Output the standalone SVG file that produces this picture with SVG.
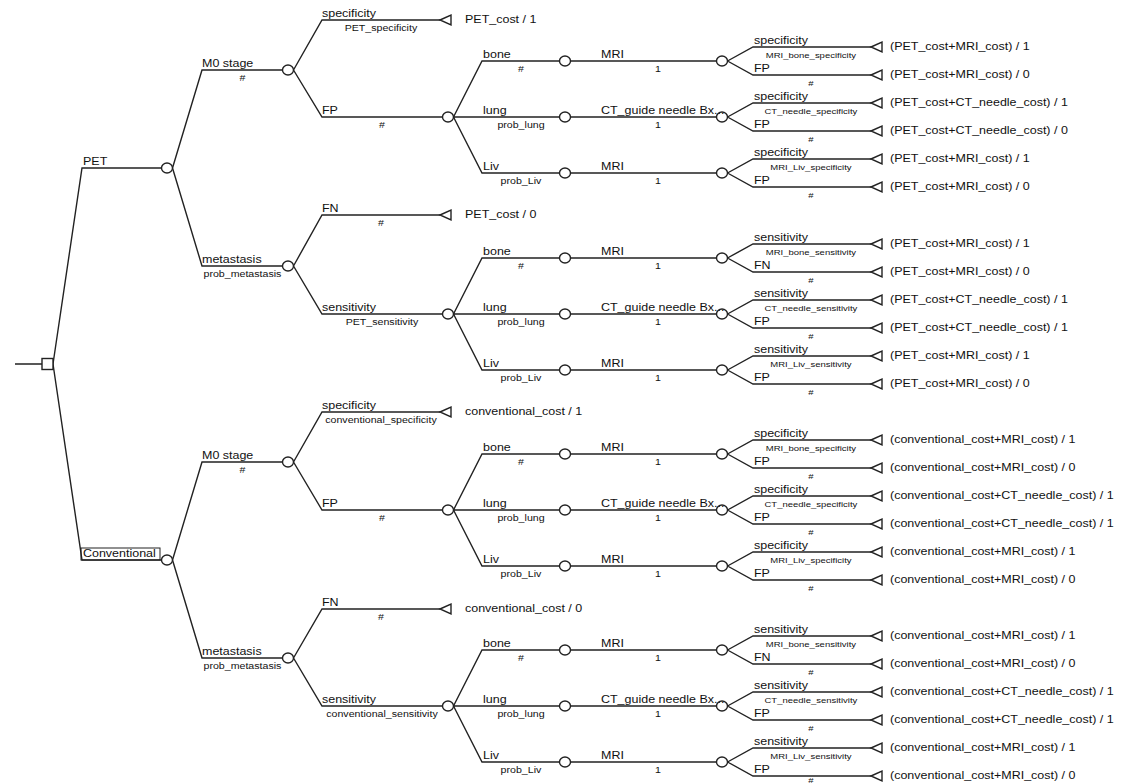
<svg xmlns="http://www.w3.org/2000/svg" width="1126" height="784" viewBox="0 0 1126 784">
<style>
text{font-family:"Liberation Sans",Arial,sans-serif;fill:#111;transform-box:fill-box;transform:scaleX(1.25)}
.n,.t{font-size:10px;transform-origin:0 50%}
.p{font-size:8.5px;text-anchor:middle;transform-origin:50% 50%}
.q{font-size:7.6px;text-anchor:middle;transform-origin:50% 50%}
.e{fill:none;stroke:#222;stroke-width:1.4}
.nd{fill:#fff;stroke:#222;stroke-width:1.4}
.box{fill:none;stroke:#222;stroke-width:1}
</style>
<defs>
<ellipse id="ch" rx="5.5" ry="5"/>
<path id="tm" d="M0,0 L11,-5 L11,5 Z"/>
</defs>
<rect width="1126" height="784" fill="#fff"/>
<g id="connectors" class="e">
<path d="M15,364 H42 M53,364 L82,168 H161.5 M53,364 L82,560 H161.5"/>
<path d="M172.5,168 L202,70 H282.5 M172.5,168 L202,266 H282.5 M172.5,560 L202,462 H282.5 M172.5,560 L202,658 H282.5"/>
<path d="M293.5,70 L322,20 H440 M293.5,70 L322,117 H442.5 M293.5,266 L322,215 H440 M293.5,266 L322,314 H442.5"/>
<path d="M293.5,462 L322,412 H440 M293.5,462 L322,510 H442.5 M293.5,658 L322,609 H440 M293.5,658 L322,706 H442.5"/>
<path d="M453.5,117 L482,61 H559.5 M453.5,117 H559.5 M453.5,117 L482,173 H559.5"/>
<path d="M453.5,314 L482,258 H559.5 M453.5,314 H559.5 M453.5,314 L482,370 H559.5"/>
<path d="M453.5,510 L482,454 H559.5 M453.5,510 H559.5 M453.5,510 L482,566 H559.5"/>
<path d="M453.5,706 L482,650 H559.5 M453.5,706 H559.5 M453.5,706 L482,762 H559.5"/>
<path d="M570.5,61 H716.5 M570.5,117 H716.5 M570.5,173 H716.5 M570.5,258 H716.5 M570.5,314 H716.5 M570.5,370 H716.5 M570.5,454 H716.5 M570.5,510 H716.5 M570.5,566 H716.5 M570.5,650 H716.5 M570.5,706 H716.5 M570.5,762 H716.5"/>
<path d="M727.5,61 L753,47 H871 M727.5,61 L753,75 H871 M727.5,117 L753,103 H871 M727.5,117 L753,131 H871 M727.5,173 L753,159 H871 M727.5,173 L753,187 H871"/>
<path d="M727.5,258 L753,244 H871 M727.5,258 L753,272 H871 M727.5,314 L753,300 H871 M727.5,314 L753,328 H871 M727.5,370 L753,356 H871 M727.5,370 L753,384 H871"/>
<path d="M727.5,454 L753,440 H871 M727.5,454 L753,468 H871 M727.5,510 L753,496 H871 M727.5,510 L753,524 H871 M727.5,566 L753,552 H871 M727.5,566 L753,580 H871"/>
<path d="M727.5,650 L753,636 H871 M727.5,650 L753,664 H871 M727.5,706 L753,692 H871 M727.5,706 L753,720 H871 M727.5,762 L753,748 H871 M727.5,762 L753,776 H871"/>
</g>

<g id="root"><rect class="nd" x="42" y="358.5" width="11" height="11"/></g>

<g id="pet"><use class="nd" href="#ch" x="167" y="168"/><text class="n" x="83" y="165">PET</text></g>
<g id="pet-m0"><use class="nd" href="#ch" x="288" y="70"/><text class="n" x="202" y="67">M0 stage</text><text class="p" x="242.5" y="81">#</text></g>
<g id="pet-m0-spec"><use class="nd" href="#tm" x="440" y="20"/><text class="n" x="322" y="17">specificity</text><text class="p" x="381" y="31">PET_specificity</text><text class="t" x="465" y="23.5">PET_cost / 1</text></g>
<g id="pet-m0-fp"><use class="nd" href="#ch" x="448" y="117"/><text class="n" x="322" y="114">FP</text><text class="p" x="382" y="128">#</text></g>
<g id="pet-m0-fp-bone"><use class="nd" href="#ch" x="565" y="61"/><text class="n" x="483" y="58">bone</text><text class="p" x="521" y="72">#</text></g>
<g id="pet-m0-fp-bone-mri"><use class="nd" href="#ch" x="722" y="61"/><text class="n" x="601" y="58">MRI</text><text class="p" x="658" y="72">1</text></g>
<g id="pet-m0-fp-bone-spec"><use class="nd" href="#tm" x="871" y="47"/><text class="n" x="754" y="44">specificity</text><text class="q" x="811" y="58">MRI_bone_specificity</text><text class="t" x="890" y="50.5">(PET_cost+MRI_cost) / 1</text></g>
<g id="pet-m0-fp-bone-fp"><use class="nd" href="#tm" x="871" y="75"/><text class="n" x="754" y="72">FP</text><text class="q" x="811" y="86">#</text><text class="t" x="890" y="78.5">(PET_cost+MRI_cost) / 0</text></g>
<g id="pet-m0-fp-lung"><use class="nd" href="#ch" x="565" y="117"/><text class="n" x="483" y="114">lung</text><text class="p" x="521" y="128">prob_lung</text></g>
<g id="pet-m0-fp-lung-ct"><use class="nd" href="#ch" x="722" y="117"/><text class="n" x="601" y="114">CT_guide needle Bx...</text><text class="p" x="658" y="128">1</text></g>
<g id="pet-m0-fp-lung-spec"><use class="nd" href="#tm" x="871" y="103"/><text class="n" x="754" y="100">specificity</text><text class="q" x="811" y="114">CT_needle_specificity</text><text class="t" x="890" y="106.5">(PET_cost+CT_needle_cost) / 1</text></g>
<g id="pet-m0-fp-lung-fp"><use class="nd" href="#tm" x="871" y="131"/><text class="n" x="754" y="128">FP</text><text class="q" x="811" y="142">#</text><text class="t" x="890" y="134.5">(PET_cost+CT_needle_cost) / 0</text></g>
<g id="pet-m0-fp-liv"><use class="nd" href="#ch" x="565" y="173"/><text class="n" x="483" y="170">Liv</text><text class="p" x="521" y="184">prob_Liv</text></g>
<g id="pet-m0-fp-liv-mri"><use class="nd" href="#ch" x="722" y="173"/><text class="n" x="601" y="170">MRI</text><text class="p" x="658" y="184">1</text></g>
<g id="pet-m0-fp-liv-spec"><use class="nd" href="#tm" x="871" y="159"/><text class="n" x="754" y="156">specificity</text><text class="q" x="811" y="170">MRI_Liv_specificity</text><text class="t" x="890" y="162.5">(PET_cost+MRI_cost) / 1</text></g>
<g id="pet-m0-fp-liv-fp"><use class="nd" href="#tm" x="871" y="187"/><text class="n" x="754" y="184">FP</text><text class="q" x="811" y="198">#</text><text class="t" x="890" y="190.5">(PET_cost+MRI_cost) / 0</text></g>

<g id="pet-met"><use class="nd" href="#ch" x="288" y="266"/><text class="n" x="202" y="263">metastasis</text><text class="p" x="242.5" y="277">prob_metastasis</text></g>
<g id="pet-met-fn"><use class="nd" href="#tm" x="440" y="215"/><text class="n" x="322" y="212">FN</text><text class="p" x="381" y="226">#</text><text class="t" x="465" y="218.5">PET_cost / 0</text></g>
<g id="pet-met-sens"><use class="nd" href="#ch" x="448" y="314"/><text class="n" x="322" y="311">sensitivity</text><text class="p" x="382" y="325">PET_sensitivity</text></g>
<g id="pet-met-sens-bone"><use class="nd" href="#ch" x="565" y="258"/><text class="n" x="483" y="255">bone</text><text class="p" x="521" y="269">#</text></g>
<g id="pet-met-sens-bone-mri"><use class="nd" href="#ch" x="722" y="258"/><text class="n" x="601" y="255">MRI</text><text class="p" x="658" y="269">1</text></g>
<g id="pet-met-sens-bone-sens"><use class="nd" href="#tm" x="871" y="244"/><text class="n" x="754" y="241">sensitivity</text><text class="q" x="811" y="255">MRI_bone_sensitivity</text><text class="t" x="890" y="247.5">(PET_cost+MRI_cost) / 1</text></g>
<g id="pet-met-sens-bone-fn"><use class="nd" href="#tm" x="871" y="272"/><text class="n" x="754" y="269">FN</text><text class="q" x="811" y="283">#</text><text class="t" x="890" y="275.5">(PET_cost+MRI_cost) / 0</text></g>
<g id="pet-met-sens-lung"><use class="nd" href="#ch" x="565" y="314"/><text class="n" x="483" y="311">lung</text><text class="p" x="521" y="325">prob_lung</text></g>
<g id="pet-met-sens-lung-ct"><use class="nd" href="#ch" x="722" y="314"/><text class="n" x="601" y="311">CT_guide needle Bx...</text><text class="p" x="658" y="325">1</text></g>
<g id="pet-met-sens-lung-sens"><use class="nd" href="#tm" x="871" y="300"/><text class="n" x="754" y="297">sensitivity</text><text class="q" x="811" y="311">CT_needle_sensitivity</text><text class="t" x="890" y="303.5">(PET_cost+CT_needle_cost) / 1</text></g>
<g id="pet-met-sens-lung-fp"><use class="nd" href="#tm" x="871" y="328"/><text class="n" x="754" y="325">FP</text><text class="q" x="811" y="339">#</text><text class="t" x="890" y="331.5">(PET_cost+CT_needle_cost) / 1</text></g>
<g id="pet-met-sens-liv"><use class="nd" href="#ch" x="565" y="370"/><text class="n" x="483" y="367">Liv</text><text class="p" x="521" y="381">prob_Liv</text></g>
<g id="pet-met-sens-liv-mri"><use class="nd" href="#ch" x="722" y="370"/><text class="n" x="601" y="367">MRI</text><text class="p" x="658" y="381">1</text></g>
<g id="pet-met-sens-liv-sens"><use class="nd" href="#tm" x="871" y="356"/><text class="n" x="754" y="353">sensitivity</text><text class="q" x="811" y="367">MRI_Liv_sensitivity</text><text class="t" x="890" y="359.5">(PET_cost+MRI_cost) / 1</text></g>
<g id="pet-met-sens-liv-fp"><use class="nd" href="#tm" x="871" y="384"/><text class="n" x="754" y="381">FP</text><text class="q" x="811" y="395">#</text><text class="t" x="890" y="387.5">(PET_cost+MRI_cost) / 0</text></g>

<g id="conv"><use class="nd" href="#ch" x="167" y="560"/><rect class="box" x="81" y="548" width="79" height="12"/><text class="n" x="83" y="557">Conventional</text></g>
<g id="conv-m0"><use class="nd" href="#ch" x="288" y="462"/><text class="n" x="202" y="459">M0 stage</text><text class="p" x="242.5" y="473">#</text></g>
<g id="conv-m0-spec"><use class="nd" href="#tm" x="440" y="412"/><text class="n" x="322" y="409">specificity</text><text class="p" x="381" y="423">conventional_specificity</text><text class="t" x="465" y="415.5">conventional_cost / 1</text></g>
<g id="conv-m0-fp"><use class="nd" href="#ch" x="448" y="510"/><text class="n" x="322" y="507">FP</text><text class="p" x="382" y="521">#</text></g>
<g id="conv-m0-fp-bone"><use class="nd" href="#ch" x="565" y="454"/><text class="n" x="483" y="451">bone</text><text class="p" x="521" y="465">#</text></g>
<g id="conv-m0-fp-bone-mri"><use class="nd" href="#ch" x="722" y="454"/><text class="n" x="601" y="451">MRI</text><text class="p" x="658" y="465">1</text></g>
<g id="conv-m0-fp-bone-spec"><use class="nd" href="#tm" x="871" y="440"/><text class="n" x="754" y="437">specificity</text><text class="q" x="811" y="451">MRI_bone_specificity</text><text class="t" x="890" y="443.5">(conventional_cost+MRI_cost) / 1</text></g>
<g id="conv-m0-fp-bone-fp"><use class="nd" href="#tm" x="871" y="468"/><text class="n" x="754" y="465">FP</text><text class="q" x="811" y="479">#</text><text class="t" x="890" y="471.5">(conventional_cost+MRI_cost) / 0</text></g>
<g id="conv-m0-fp-lung"><use class="nd" href="#ch" x="565" y="510"/><text class="n" x="483" y="507">lung</text><text class="p" x="521" y="521">prob_lung</text></g>
<g id="conv-m0-fp-lung-ct"><use class="nd" href="#ch" x="722" y="510"/><text class="n" x="601" y="507">CT_guide needle Bx...</text><text class="p" x="658" y="521">1</text></g>
<g id="conv-m0-fp-lung-spec"><use class="nd" href="#tm" x="871" y="496"/><text class="n" x="754" y="493">specificity</text><text class="q" x="811" y="507">CT_needle_specificity</text><text class="t" x="890" y="499.5">(conventional_cost+CT_needle_cost) / 1</text></g>
<g id="conv-m0-fp-lung-fp"><use class="nd" href="#tm" x="871" y="524"/><text class="n" x="754" y="521">FP</text><text class="q" x="811" y="535">#</text><text class="t" x="890" y="527.5">(conventional_cost+CT_needle_cost) / 1</text></g>
<g id="conv-m0-fp-liv"><use class="nd" href="#ch" x="565" y="566"/><text class="n" x="483" y="563">Liv</text><text class="p" x="521" y="577">prob_Liv</text></g>
<g id="conv-m0-fp-liv-mri"><use class="nd" href="#ch" x="722" y="566"/><text class="n" x="601" y="563">MRI</text><text class="p" x="658" y="577">1</text></g>
<g id="conv-m0-fp-liv-spec"><use class="nd" href="#tm" x="871" y="552"/><text class="n" x="754" y="549">specificity</text><text class="q" x="811" y="563">MRI_Liv_specificity</text><text class="t" x="890" y="555.5">(conventional_cost+MRI_cost) / 1</text></g>
<g id="conv-m0-fp-liv-fp"><use class="nd" href="#tm" x="871" y="580"/><text class="n" x="754" y="577">FP</text><text class="q" x="811" y="591">#</text><text class="t" x="890" y="583.5">(conventional_cost+MRI_cost) / 0</text></g>

<g id="conv-met"><use class="nd" href="#ch" x="288" y="658"/><text class="n" x="202" y="655">metastasis</text><text class="p" x="242.5" y="669">prob_metastasis</text></g>
<g id="conv-met-fn"><use class="nd" href="#tm" x="440" y="609"/><text class="n" x="322" y="606">FN</text><text class="p" x="381" y="620">#</text><text class="t" x="465" y="612.5">conventional_cost / 0</text></g>
<g id="conv-met-sens"><use class="nd" href="#ch" x="448" y="706"/><text class="n" x="322" y="703">sensitivity</text><text class="p" x="382" y="717">conventional_sensitivity</text></g>
<g id="conv-met-sens-bone"><use class="nd" href="#ch" x="565" y="650"/><text class="n" x="483" y="647">bone</text><text class="p" x="521" y="661">#</text></g>
<g id="conv-met-sens-bone-mri"><use class="nd" href="#ch" x="722" y="650"/><text class="n" x="601" y="647">MRI</text><text class="p" x="658" y="661">1</text></g>
<g id="conv-met-sens-bone-sens"><use class="nd" href="#tm" x="871" y="636"/><text class="n" x="754" y="633">sensitivity</text><text class="q" x="811" y="647">MRI_bone_sensitivity</text><text class="t" x="890" y="639.5">(conventional_cost+MRI_cost) / 1</text></g>
<g id="conv-met-sens-bone-fn"><use class="nd" href="#tm" x="871" y="664"/><text class="n" x="754" y="661">FN</text><text class="q" x="811" y="675">#</text><text class="t" x="890" y="667.5">(conventional_cost+MRI_cost) / 0</text></g>
<g id="conv-met-sens-lung"><use class="nd" href="#ch" x="565" y="706"/><text class="n" x="483" y="703">lung</text><text class="p" x="521" y="717">prob_lung</text></g>
<g id="conv-met-sens-lung-ct"><use class="nd" href="#ch" x="722" y="706"/><text class="n" x="601" y="703">CT_guide needle Bx...</text><text class="p" x="658" y="717">1</text></g>
<g id="conv-met-sens-lung-sens"><use class="nd" href="#tm" x="871" y="692"/><text class="n" x="754" y="689">sensitivity</text><text class="q" x="811" y="703">CT_needle_sensitivity</text><text class="t" x="890" y="695.5">(conventional_cost+CT_needle_cost) / 1</text></g>
<g id="conv-met-sens-lung-fp"><use class="nd" href="#tm" x="871" y="720"/><text class="n" x="754" y="717">FP</text><text class="q" x="811" y="731">#</text><text class="t" x="890" y="723.5">(conventional_cost+CT_needle_cost) / 1</text></g>
<g id="conv-met-sens-liv"><use class="nd" href="#ch" x="565" y="762"/><text class="n" x="483" y="759">Liv</text><text class="p" x="521" y="773">prob_Liv</text></g>
<g id="conv-met-sens-liv-mri"><use class="nd" href="#ch" x="722" y="762"/><text class="n" x="601" y="759">MRI</text><text class="p" x="658" y="773">1</text></g>
<g id="conv-met-sens-liv-sens"><use class="nd" href="#tm" x="871" y="748"/><text class="n" x="754" y="745">sensitivity</text><text class="q" x="811" y="759">MRI_Liv_sensitivity</text><text class="t" x="890" y="751.5">(conventional_cost+MRI_cost) / 1</text></g>
<g id="conv-met-sens-liv-fp"><use class="nd" href="#tm" x="871" y="776"/><text class="n" x="754" y="773">FP</text><text class="q" x="811" y="783">#</text><text class="t" x="890" y="779.5">(conventional_cost+MRI_cost) / 0</text></g>
</svg>
